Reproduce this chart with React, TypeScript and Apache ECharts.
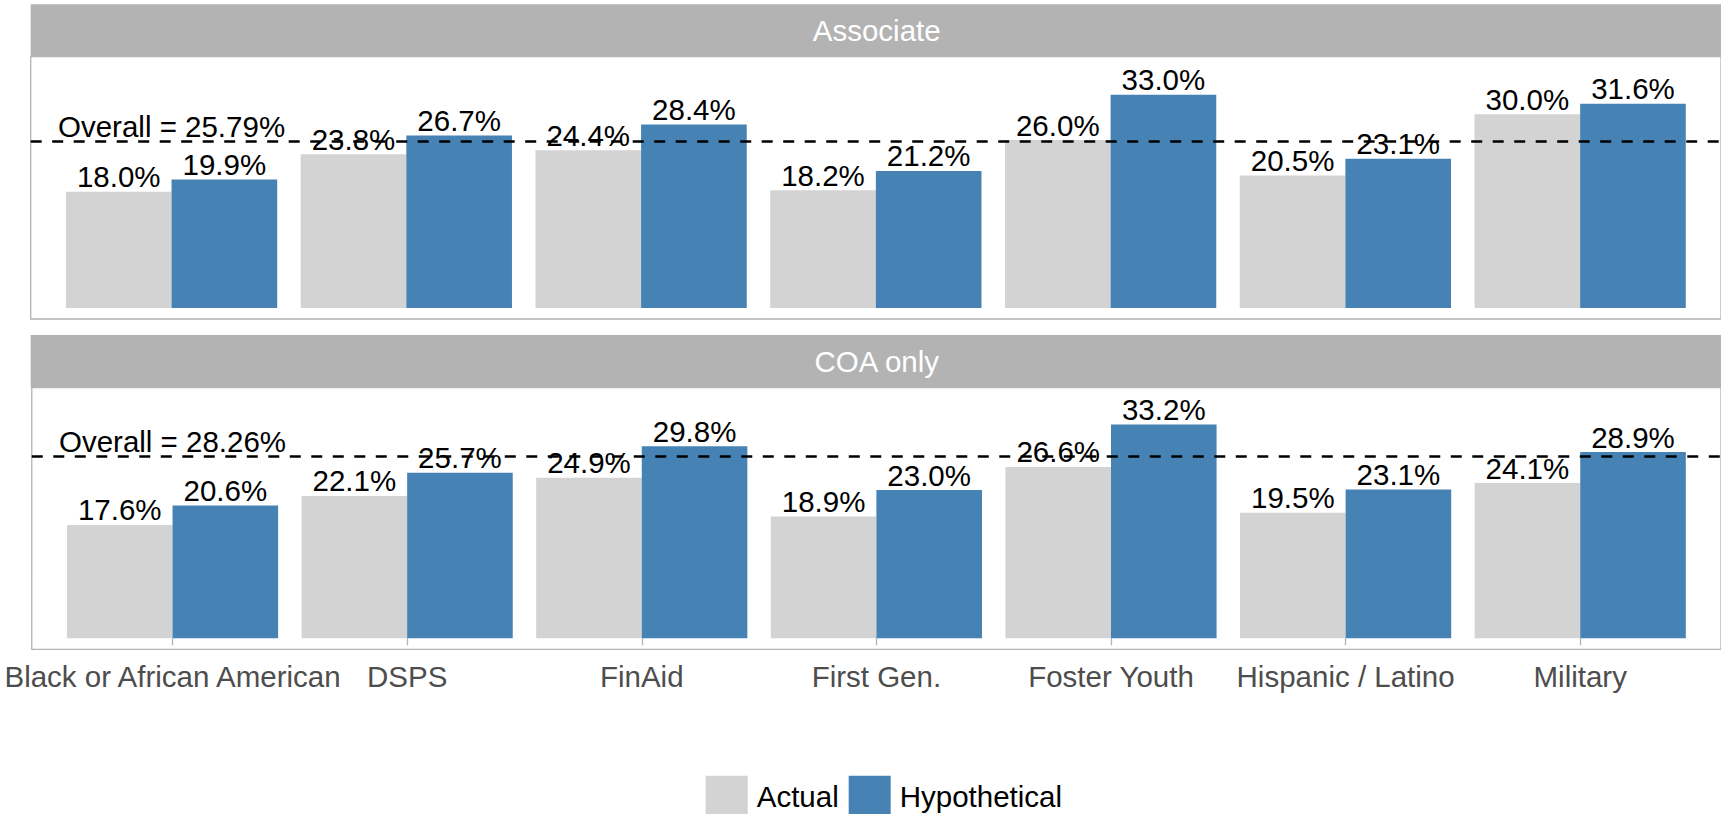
import React, { useEffect, useRef } from "react";
import * as echarts from "echarts";

const categories = [
  "Black or African American",
  "DSPS",
  "FinAid",
  "First Gen.",
  "Foster Youth",
  "Hispanic / Latino",
  "Military",
];
const panelNames = ["Associate", "COA only"];
const associateActual = [18.0, 23.8, 24.4, 18.2, 26.0, 20.5, 30.0];
const associateHypothetical = [19.9, 26.7, 28.4, 21.2, 33.0, 23.1, 31.6];
const coaActual = [17.6, 22.1, 24.9, 18.9, 26.6, 19.5, 24.1];
const coaHypothetical = [20.6, 25.7, 29.8, 23.0, 33.2, 23.1, 28.9];
const overallRates = [25.79, 28.26];
const seriesNames = ["Actual", "Hypothetical"];

const FONT = "'Liberation Sans', Arial, sans-serif";
const FS = 29.5;
const GRAY = "#d3d3d3";
const BLUE = "#4682b4";
const STRIP = "#b3b3b3";

const PANEL_LEFT = 30.7;
const PANEL_WIDTH = 1692;
const PANEL_TOPS = [56.7, 387.7];
const PANEL_HEIGHTS = [262.3, 261.6];
const STRIP_TOPS = [4.3, 335];
const STRIP_HEIGHT = 52.4;

export default function App() {
  const ref = useRef<HTMLDivElement>(null);

  useEffect(() => {
    document.body.style.margin = "0";
    document.body.style.overflow = "hidden";
    if (!ref.current) return;
    const chart = echarts.init(ref.current, undefined, { renderer: "svg" });

    const panelData = [
      [associateActual, associateHypothetical],
      [coaActual, coaHypothetical],
    ];
    const positions = categories.map((_, i) => i + 1);

    const grids = PANEL_TOPS.map((top, i) => ({
      left: PANEL_LEFT,
      top,
      width: PANEL_WIDTH,
      height: PANEL_HEIGHTS[i],
      show: true,
      borderColor: STRIP,
      borderWidth: 1.3,
      backgroundColor: "#fff",
      containLabel: false,
    }));

    const xAxes = PANEL_TOPS.map((_, i) => ({
      type: "value",
      gridIndex: i,
      min: 0.4,
      max: 7.6,
      splitLine: { show: false },
      axisLine: { show: false },
      axisTick: {
        show: i === 1,
        customValues: positions,
        length: 7,
        lineStyle: { color: STRIP, width: 1.3 },
      },
      axisLabel: {
        show: i === 1,
        customValues: positions,
        formatter: (v: number) => categories[Math.round(v) - 1] ?? "",
        fontSize: FS,
        fontFamily: FONT,
        color: "#4d4d4d",
        margin: 12,
        hideOverlap: false,
      },
    }));

    const yAxes = PANEL_TOPS.map((_, i) => ({
      type: "value",
      gridIndex: i,
      min: -1.72,
      max: 38.9,
      show: false,
      splitLine: { show: false },
    }));

    const labelStyle = {
      show: true,
      position: "top",
      distance: 0,
      fontSize: FS,
      fontFamily: FONT,
      color: "#000",
      formatter: (p: any) => p.value[1].toFixed(1) + "%",
    };

    const series: any[] = [];
    panelData.forEach((pair, pi) => {
      pair.forEach((vals, si) => {
        series.push({
          type: "bar",
          name: seriesNames[si],
          xAxisIndex: pi,
          yAxisIndex: pi,
          data: vals.map((v, ci) => [positions[ci], v]),
          itemStyle: { color: si === 0 ? GRAY : BLUE },
          barGap: "0%",
          barCategoryGap: "10%",
          label: labelStyle,
          emphasis: { disabled: true },
        });
      });
      series.push({
        type: "scatter",
        name: "Overall " + panelNames[pi],
        xAxisIndex: pi,
        yAxisIndex: pi,
        symbolSize: 0.01,
        itemStyle: { color: "#000", opacity: 1 },
        silent: true,
        z: 6,
        data: [[positions[0], overallRates[pi]]],
        label: {
          show: true,
          position: "top",
          distance: 0,
          fontSize: FS,
          fontFamily: FONT,
          color: "#000",
          opacity: 1,
          formatter: () => "Overall = " + overallRates[pi].toFixed(2) + "%",
        },
        markLine: {
          silent: true,
          symbol: "none",
          label: { show: false },
          lineStyle: { color: "#000", type: [11, 10.5], width: 2.5 },
          data: [{ yAxis: overallRates[pi] }],
        },
      });
    });

    const graphic: any[] = [];
    STRIP_TOPS.forEach((top, i) => {
      graphic.push({
        type: "rect",
        shape: { x: PANEL_LEFT, y: top, width: PANEL_WIDTH, height: STRIP_HEIGHT },
        style: { fill: STRIP },
        silent: true,
      });
      graphic.push({
        type: "text",
        x: PANEL_LEFT + PANEL_WIDTH / 2,
        y: top + STRIP_HEIGHT / 2,
        style: {
          text: panelNames[i],
          fill: "#fff",
          fontSize: FS,
          fontFamily: FONT,
          align: "center",
          verticalAlign: "middle",
        },
        silent: true,
      });
    });

    chart.setOption({
      animation: false,
      backgroundColor: "#fff",
      grid: grids,
      xAxis: xAxes,
      yAxis: yAxes,
      series,
      graphic,
      legend: {
        data: seriesNames,
        left: 705.7,
        top: 775.7,
        padding: 0,
        itemWidth: 42,
        itemHeight: 42,
        itemGap: 10,
        icon: "rect",
        selectedMode: false,
        textStyle: {
          fontSize: FS,
          fontFamily: FONT,
          color: "#000",
          padding: [0, 0, 0, 4],
        },
      },
    });

    return () => chart.dispose();
  }, []);

  return <div ref={ref} style={{ width: 1721, height: 814 }} />;
}
